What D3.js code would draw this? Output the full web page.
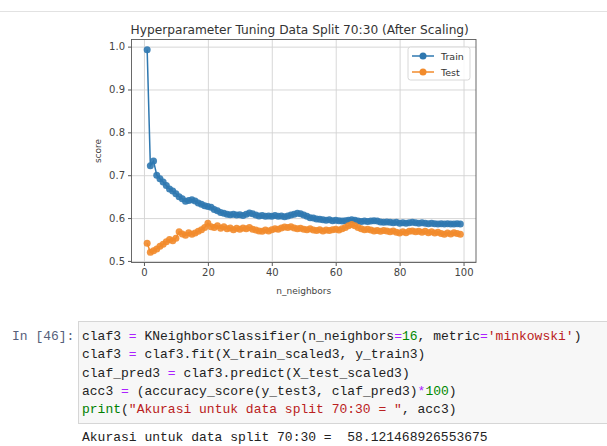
<!DOCTYPE html>
<html>
<head>
<meta charset="utf-8">
<style>
  body { margin: 0; background: #fff; }
  svg { display: block; }
  .tick text { font-family: "DejaVu Sans", sans-serif; font-size: 10px; fill: #444; }
  .code { font-family: "Liberation Mono", "DejaVu Sans Mono", monospace; font-size: 13px; }
</style>
</head>
<body>
<script src="https://d3js.org/d3.v7.min.js"></script>
<script>
// n_neighbors 1..99
var neighbors = d3.range(1, 100);

var trainScores = [
  0.993, 0.722, 0.733, 0.700, 0.692, 0.684, 0.676, 0.668, 0.663, 0.657,
  0.650, 0.645, 0.639, 0.641, 0.643, 0.640, 0.635, 0.632, 0.629, 0.627,
  0.625, 0.620, 0.617, 0.613, 0.611, 0.609, 0.608, 0.609, 0.607, 0.608,
  0.606, 0.609, 0.612, 0.610, 0.607, 0.605, 0.606, 0.604, 0.605, 0.604,
  0.606, 0.604, 0.605, 0.603, 0.605, 0.607, 0.609, 0.611, 0.610, 0.607,
  0.604, 0.601, 0.600, 0.598, 0.597, 0.596, 0.595, 0.596, 0.594, 0.595,
  0.594, 0.593, 0.594, 0.595, 0.596, 0.595, 0.593, 0.592, 0.593, 0.592,
  0.593, 0.594, 0.593, 0.591, 0.590, 0.591, 0.590, 0.589, 0.590, 0.588,
  0.589, 0.588, 0.589, 0.590, 0.589, 0.588, 0.589, 0.588, 0.587, 0.588,
  0.587, 0.586, 0.587, 0.586, 0.587, 0.586, 0.586, 0.587, 0.586
];

var testScores = [
  0.541, 0.520, 0.524, 0.528, 0.534, 0.539, 0.545, 0.550, 0.547, 0.553,
  0.568, 0.563, 0.560, 0.566, 0.562, 0.565, 0.569, 0.573, 0.578, 0.588,
  0.580, 0.578, 0.582, 0.576, 0.580, 0.575, 0.577, 0.573, 0.576, 0.574,
  0.577, 0.575, 0.578, 0.574, 0.572, 0.570, 0.569, 0.572, 0.570, 0.573,
  0.575, 0.574, 0.577, 0.579, 0.578, 0.580, 0.577, 0.575, 0.576, 0.574,
  0.573, 0.575, 0.572, 0.571, 0.573, 0.570, 0.572, 0.571, 0.573, 0.574,
  0.572, 0.575, 0.578, 0.582, 0.585, 0.582, 0.578, 0.575, 0.573, 0.574,
  0.572, 0.570, 0.571, 0.569, 0.571, 0.570, 0.568, 0.570, 0.567, 0.565,
  0.568, 0.566, 0.569, 0.570, 0.568, 0.569, 0.567, 0.569, 0.566, 0.568,
  0.565, 0.567, 0.564, 0.562, 0.565, 0.563, 0.566, 0.564, 0.562
];

var xTicks = [0, 20, 40, 60, 80, 100];
var yTicks = [0.5, 0.6, 0.7, 0.8, 0.9, 1.0];
var seriesNames = ["Train", "Test"];
var seriesColors = ["#2f78b0", "#f28b2c"];

var codeLines = [
  "claf3 = KNeighborsClassifier(n_neighbors=16, metric='minkowski')",
  "claf3 = claf3.fit(X_train_scaled3, y_train3)",
  "claf_pred3 = claf3.predict(X_test_scaled3)",
  "acc3 = (accuracy_score(y_test3, claf_pred3)*100)",
  "print(\"Akurasi untuk data split 70:30 = \", acc3)"
];
var outputLine = "Akurasi untuk data split 70:30 =  58.121468926553675";

var W = 607, H = 446;
var plot = { left: 131.5, right: 476, top: 39.5, bottom: 262.5 };

var svg = d3.select("body").append("svg")
    .attr("width", W)
    .attr("height", H);

svg.append("rect").attr("width", W).attr("height", H).attr("fill", "#fff");

// faint notebook separator at the top
svg.append("line")
    .attr("x1", 0).attr("x2", W).attr("y1", 11.5).attr("y2", 11.5)
    .attr("stroke", "#e2e2e2");

// matplotlib-like 5% margins
var xPad = (d3.max(neighbors) - d3.min(neighbors)) * 0.05;
var allScores = trainScores.concat(testScores);
var yPad = (d3.max(allScores) - d3.min(allScores)) * 0.05;

var x = d3.scaleLinear()
    .domain([d3.min(neighbors) - xPad, d3.max(neighbors) + xPad])
    .range([plot.left, plot.right]);
var y = d3.scaleLinear()
    .domain([d3.min(allScores) - yPad, d3.max(allScores) + yPad])
    .range([plot.bottom, plot.top]);

var pw = plot.right - plot.left, ph = plot.bottom - plot.top;

// grid
svg.append("g")
    .attr("transform", "translate(0," + plot.bottom + ")")
    .call(d3.axisBottom(x).tickValues(xTicks).tickSize(-ph).tickFormat(""))
    .call(function(g) {
        g.select(".domain").remove();
        g.selectAll("line").attr("stroke", "#d3d3d3").attr("stroke-width", 0.9);
    });
svg.append("g")
    .attr("transform", "translate(" + plot.left + ",0)")
    .call(d3.axisLeft(y).tickValues(yTicks).tickSize(-pw).tickFormat(""))
    .call(function(g) {
        g.select(".domain").remove();
        g.selectAll("line").attr("stroke", "#d3d3d3").attr("stroke-width", 0.9);
    });

// series
var allSeries = [trainScores, testScores];
allSeries.forEach(function(vals, i) {
    var pts = neighbors.map(function(k, j) { return [k, vals[j]]; });
    svg.append("path")
        .datum(pts)
        .attr("fill", "none")
        .attr("stroke", seriesColors[i])
        .attr("stroke-width", 1.5)
        .attr("d", d3.line().x(function(d) { return x(d[0]); }).y(function(d) { return y(d[1]); }));
    svg.append("g").selectAll("circle")
        .data(pts)
        .enter().append("circle")
        .attr("cx", function(d) { return x(d[0]); })
        .attr("cy", function(d) { return y(d[1]); })
        .attr("r", 3.5)
        .attr("fill", seriesColors[i])
        .attr("fill-opacity", 0.9);
});

// frame
svg.append("rect")
    .attr("x", plot.left).attr("y", plot.top)
    .attr("width", pw).attr("height", ph)
    .attr("fill", "none").attr("stroke", "#5a5a5a").attr("stroke-width", 0.9);

// axes
var xAxis = svg.append("g")
    .attr("transform", "translate(0," + plot.bottom + ")")
    .call(d3.axisBottom(x).tickValues(xTicks).tickSize(3.5).tickPadding(3).tickFormat(d3.format("d")));
xAxis.select(".domain").remove();
xAxis.selectAll("line").attr("stroke", "#5a5a5a");

var yAxis = svg.append("g")
    .attr("transform", "translate(" + plot.left + ",0)")
    .call(d3.axisLeft(y).tickValues(yTicks).tickSize(3.5).tickPadding(3).tickFormat(d3.format(".1f")));
yAxis.select(".domain").remove();
yAxis.selectAll("line").attr("stroke", "#5a5a5a");

// title and labels
svg.append("text")
    .attr("x", (plot.left + plot.right) / 2 - 4)
    .attr("y", 34)
    .attr("text-anchor", "middle")
    .style("font-family", "DejaVu Sans, sans-serif")
    .style("font-size", "12.2px")
    .attr("fill", "#333")
    .text("Hyperparameter Tuning Data Split 70:30 (After Scaling)");

svg.append("text")
    .attr("x", (plot.left + plot.right) / 2)
    .attr("y", 294)
    .attr("text-anchor", "middle")
    .style("font-family", "DejaVu Sans, sans-serif")
    .style("font-size", "9px")
    .attr("fill", "#444")
    .text("n_neighbors");

svg.append("text")
    .attr("transform", "translate(101," + (plot.top + plot.bottom) / 2 + ") rotate(-90)")
    .attr("text-anchor", "middle")
    .style("font-family", "DejaVu Sans, sans-serif")
    .style("font-size", "9px")
    .attr("fill", "#444")
    .text("score");

// legend
var lg = svg.append("g").attr("transform", "translate(408,47)");
lg.append("rect")
    .attr("width", 62).attr("height", 33).attr("rx", 2.5)
    .attr("fill", "#fff").attr("fill-opacity", 0.85)
    .attr("stroke", "#d8d8d8");
seriesNames.forEach(function(name, i) {
    var yy = 9 + i * 16;
    lg.append("line").attr("x1", 4).attr("x2", 26).attr("y1", yy).attr("y2", yy)
        .attr("stroke", seriesColors[i]).attr("stroke-width", 1.5);
    lg.append("circle").attr("cx", 15).attr("cy", yy).attr("r", 3.5).attr("fill", seriesColors[i]);
    lg.append("text").attr("x", 33).attr("y", yy + 3.5)
        .style("font-family", "DejaVu Sans, sans-serif")
        .style("font-size", "9.5px")
        .attr("fill", "#333")
        .text(name);
});

// code cell
svg.append("rect")
    .attr("x", 78.5).attr("y", 321.5).attr("width", 540).attr("height", 102)
    .attr("fill", "#f7f7f7").attr("stroke", "#d6d6d6");

svg.append("text")
    .attr("class", "code")
    .attr("x", 12).attr("y", 340)
    .attr("fill", "#56607a")
    .text("In [46]:");

var tokenColors = { str: "#ba2121", num: "#008800", op: "#aa22ff", kw: "#008000", txt: "#222" };
function tokenize(line) {
    var re = /("[^"]*"|'[^']*')|([A-Za-z_]\w*)|(\d+)|([=*])|(\s+|.)/g, m, out = [];
    while ((m = re.exec(line)) !== null) {
        if (m[1]) out.push([m[1], "str"]);
        else if (m[2]) out.push([m[2], m[2] === "print" ? "kw" : "txt"]);
        else if (m[3]) out.push([m[3], "num"]);
        else if (m[4]) out.push([m[4], "op"]);
        else out.push([m[5], "txt"]);
    }
    return out;
}

codeLines.forEach(function(line, i) {
    var t = svg.append("text")
        .attr("class", "code")
        .attr("x", 82).attr("y", 340 + i * 18.3)
        .style("white-space", "pre");
    tokenize(line).forEach(function(tok) {
        t.append("tspan").attr("fill", tokenColors[tok[1]]).text(tok[0]);
    });
});

svg.append("text")
    .attr("class", "code")
    .attr("x", 82).attr("y", 441)
    .style("white-space", "pre")
    .attr("fill", "#222")
    .text(outputLine);
</script>
</body>
</html>
